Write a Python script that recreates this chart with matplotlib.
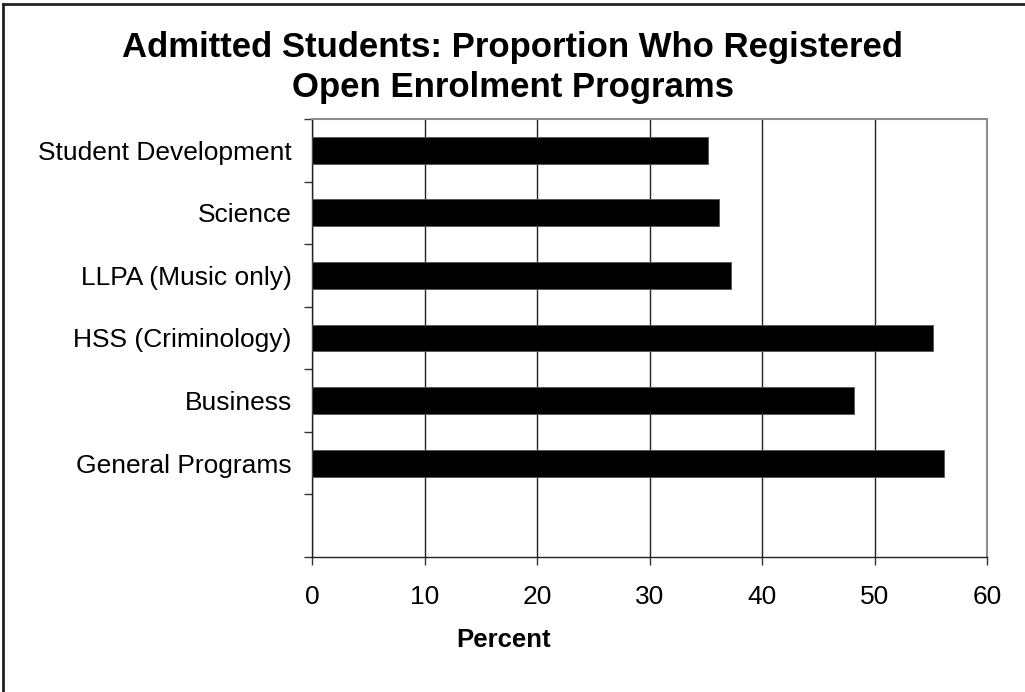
import matplotlib
matplotlib.use("Agg")
import matplotlib.pyplot as plt
from matplotlib.lines import Line2D
import numpy as np

plt.rcParams['font.family'] = ['Liberation Sans', 'DejaVu Sans']

categories = ["", "General Programs", "Business", "HSS (Criminology)",
              "LLPA (Music only)", "Science", "Student Development"]
values = [np.nan, 56.2, 48.2, 55.2, 37.2, 36.2, 35.2]
xticks = [0, 10, 20, 30, 40, 50, 60]

fig = plt.figure(figsize=(10.25, 6.92), dpi=100)
ax = fig.add_axes([312/1025, 1-557/692, (987-312)/1025, (557-119)/692])

y = np.arange(len(categories))
ax.barh(y, values, height=0.43, color='black', edgecolor='#555555', linewidth=0.6, zorder=3)

ax.set_xlim(0, 60)
ax.set_ylim(-0.5, len(categories)-0.5)
ax.set_xticks(xticks)
ax.set_xticklabels([str(t) for t in xticks], fontsize=19)
ax.set_yticks(y)
ax.set_yticklabels(categories, fontsize=19)
ax.tick_params(axis='y', length=0, pad=14.5)
ax.set_yticks(np.arange(-0.5, len(categories)), minor=True)
ax.tick_params(axis='y', which='minor', length=6, width=1, color='#333333', direction='out')
ax.tick_params(axis='x', length=6, width=1, color='#333333', direction='out', pad=14)

ax.xaxis.grid(True, color='#222222', linewidth=1.0, zorder=1)
ax.set_axisbelow(True)
for s in ['top', 'right']:
    ax.spines[s].set_color('#8c8c8c')
    ax.spines[s].set_linewidth(1.5)
for s in ['left', 'bottom']:
    ax.spines[s].set_color('#222222')
    ax.spines[s].set_linewidth(1.0)

fig.text(0.5, 1-47/692, "Admitted Students: Proportion Who Registered", ha='center', va='center',
         fontsize=25, fontweight='bold')
fig.text(0.5, 1-87/692, "Open Enrolment Programs", ha='center', va='center',
         fontsize=25, fontweight='bold')
fig.text(504/1025, 1-640/692, "Percent", ha='center', va='center', fontsize=18.5, fontweight='bold')

fig.add_artist(Line2D([2.5/1025, 2.5/1025], [0, 1-4/692], transform=fig.transFigure, color='#222222', linewidth=2))
fig.add_artist(Line2D([2.5/1025, 1], [1-4/692, 1-4/692], transform=fig.transFigure, color='#222222', linewidth=2))

fig.savefig("out.png", dpi=100)
